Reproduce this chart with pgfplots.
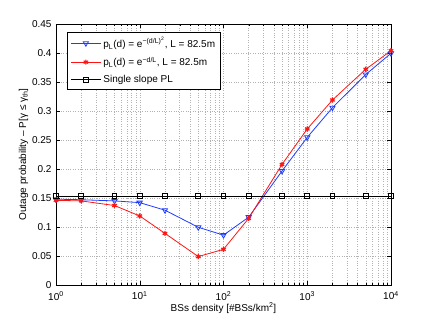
\documentclass[border=0pt]{standalone}
\usepackage{pgfplots}
\pgfplotsset{compat=1.18}
\usepackage{fontspec}
\setmainfont{Liberation Sans}
\definecolor{mblue}{RGB}{30,60,255}
\definecolor{mred}{RGB}{255,20,20}

\begin{document}
\begin{tikzpicture}
\begin{axis}[
  name=ax,
  at={(0,0)},anchor=south west,
  scale only axis,
  width=335pt,height=261pt,
  xmode=log,
  xmin=1,xmax=10000,ymin=0,ymax=0.45,
  xtick={1,10,100,1000,10000},
  xticklabels={10\textsuperscript{0},10\textsuperscript{1},10\textsuperscript{2},10\textsuperscript{3},10\textsuperscript{4}},
  ytick={0,0.05,...,0.45},
  yticklabels={0,0.05,0.1,0.15,0.2,0.25,0.3,0.35,0.4,0.45},
  font=\fontsize{10}{12}\selectfont,
  xticklabel style={yshift=-3pt},
  yticklabel style={xshift=-1pt},
  tick align=inside,
  major tick length=4pt,minor tick length=2pt,
  tick style={black,line width=0.4pt},
  axis line style={black,line width=0.6pt},
  xmajorgrids,xminorgrids,ymajorgrids,
  major grid style={gray!60,dotted,line width=0.45pt},
  minor grid style={gray!60,dotted,line width=0.45pt},
  xlabel={BSs density [\#BSs/km\textsuperscript{2}]},
  ylabel={Outage probability – P[γ ≤ γ\textsubscript{th}]},
  xlabel style={yshift=4pt},
  ylabel style={yshift=-3pt},
  legend style={at={(0.033,0.969)},anchor=north west,draw=black,line width=0.6pt,
    font=\fontsize{10}{12}\selectfont,row sep=4pt,inner sep=3pt},
  legend cell align=left,
  legend image code/.code={\draw[mark repeat=2,mark phase=2] plot coordinates {(0cm,0cm)(0.53cm,0cm)(1.06cm,0cm)};},
]
\addplot[mblue,line width=0.8pt,mark=triangle,mark size=3pt,mark options={solid,rotate=180,fill=none}] coordinates {
(1,0.148)(2,0.147)(5,0.145)(10,0.142)(20,0.129)(50,0.0995)(100,0.086)(200,0.117)(500,0.1965)(1000,0.2546)(2000,0.3057)(5000,0.363)(10000,0.3995)
};
\addlegendentry{p\textsubscript{L}(d) = e\textsuperscript{−(d/L)\textsuperscript{2}}, L = 82.5m}
\addplot[mred,line width=0.8pt,mark=asterisk,mark size=2.6pt,mark options={solid,line width=1.2pt}] coordinates {
(1,0.146)(2,0.145)(5,0.137)(10,0.119)(20,0.089)(50,0.049)(100,0.0615)(200,0.115)(500,0.208)(1000,0.269)(2000,0.319)(5000,0.372)(10000,0.404)
};
\addlegendentry{p\textsubscript{L}(d) = e\textsuperscript{−d/L}, L = 82.5m}
\addplot[black,line width=0.9pt,mark=square,mark size=2.4pt,mark options={solid,fill=none}] coordinates {
(1,0.1534)(2,0.1534)(5,0.1534)(10,0.1534)(20,0.1534)(50,0.1534)(100,0.1534)(200,0.1534)(500,0.1534)(1000,0.1534)(2000,0.1534)(5000,0.1534)(10000,0.1534)
};
\addlegendentry{Single slope PL}
\end{axis}
\pgfresetboundingbox
\path[use as bounding box] (-56pt,-36pt) rectangle (376pt,285pt);
\end{tikzpicture}
\end{document}
